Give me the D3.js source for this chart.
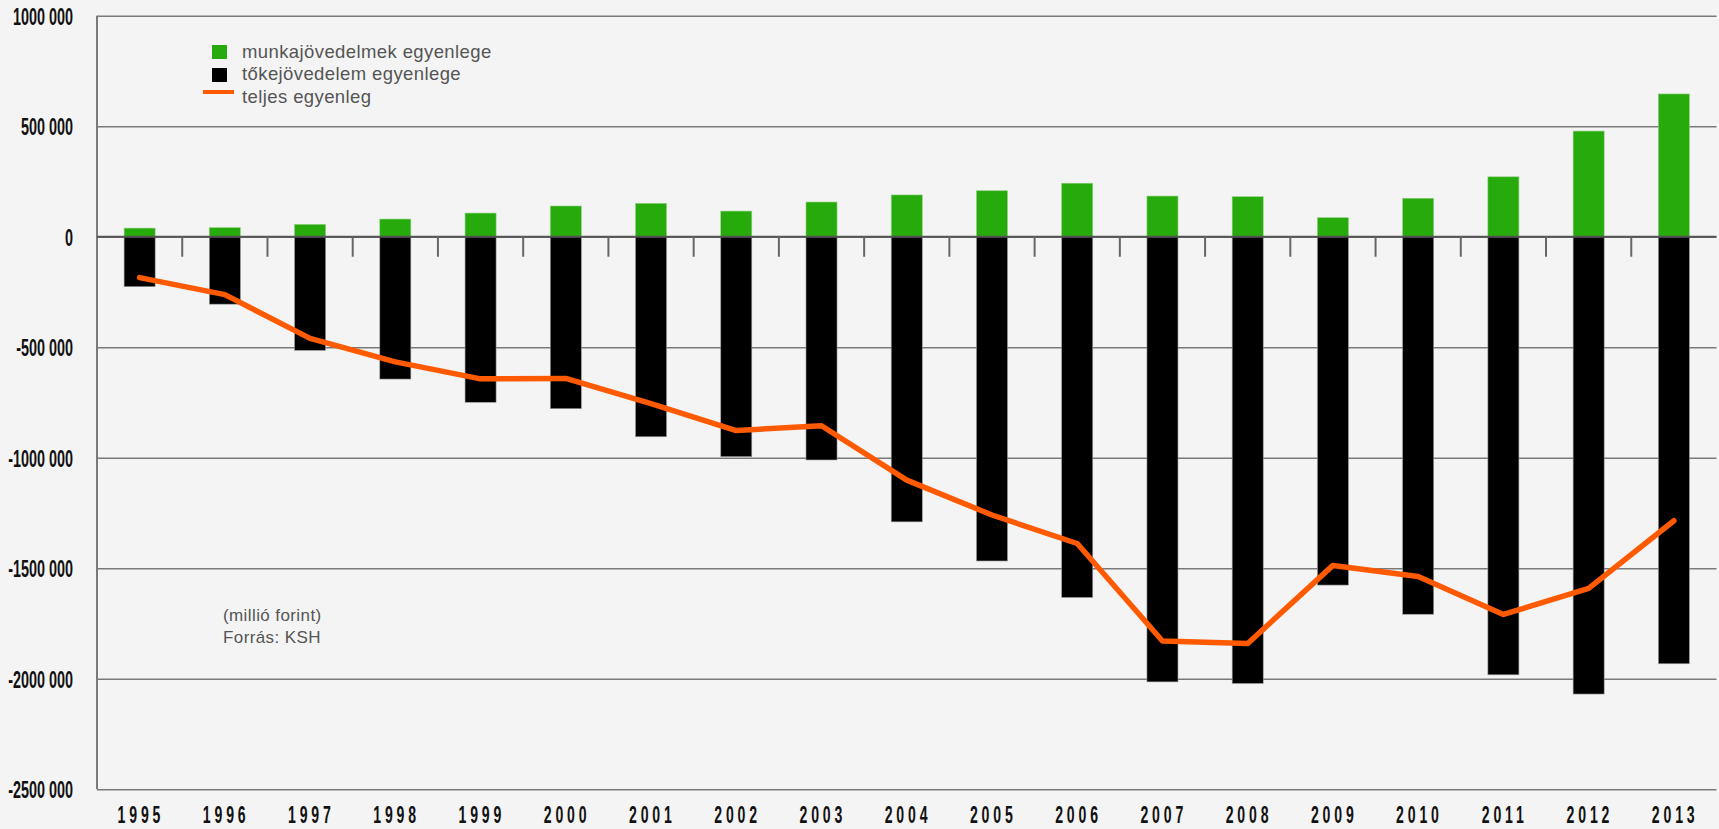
<!DOCTYPE html>
<html>
<head>
    <meta charset="utf-8">
    <title>Munka- és tőkejövedelem egyenlege</title>
    <script src="https://d3js.org/d3.v7.min.js"></script>
    <style>
        body { margin: 0; background: #f4f4f4; }
        svg { display: block; background: #f4f4f4; }
        .grid line { stroke: #7a7a7a; stroke-width: 1.5px; }
        .grid .domain { display: none; }
        .ylab text { font: bold 20px "Liberation Sans", sans-serif; fill: #111; }
        .xlab text { font: bold 22px "Liberation Sans", sans-serif; fill: #111; letter-spacing: 6px; }
        .legend text { font: 18.5px "Liberation Sans", sans-serif; fill: #555; letter-spacing: 0.4px; }
        .note text { font: 17px "Liberation Sans", sans-serif; fill: #555; letter-spacing: 0.4px; }
    </style>
</head>
<body>
<script>
    // adatok (millió forint), forrás: KSH
    var years = ["1995","1996","1997","1998","1999","2000","2001","2002","2003","2004",
                 "2005","2006","2007","2008","2009","2010","2011","2012","2013"];
    var munka = [39000, 41000, 56000, 80000, 107000, 139000, 151000, 116000, 157000, 189000,
                 208000, 242000, 184000, 181000, 86000, 174000, 271000, 478000, 646000];
    var toke = [-226000, -305000, -514000, -644000, -749000, -778000, -905000, -995000, -1010000, -1290000,
                -1467000, -1632000, -2014000, -2021000, -1576000, -1708000, -1982000, -2069000, -1932000];
    var teljes = [-185000, -262000, -460000, -566000, -643000, -641000, -755000, -877000, -855000, -1101000,
                  -1259000, -1388000, -1829000, -1840000, -1487000, -1537000, -1709000, -1591000, -1285000];
    var yTicks = [1000000, 500000, 0, -500000, -1000000, -1500000, -2000000, -2500000];
    var legendItems = ["munkajövedelmek egyenlege", "tőkejövedelem egyenlege", "teljes egyenleg"];

    var width = 1719, height = 829;
    var mLeft = 97, mRight = 1716.5, mTop = 15.7, mBottom = 789.3;

    var svg = d3.select("body").append("svg")
        .attr("width", width)
        .attr("height", height);

    var x = d3.scaleBand()
        .domain(years)
        .range([mLeft, mRight])
        .paddingInner(0.636)
        .paddingOuter(0.318);

    var y = d3.scaleLinear()
        .domain([-2500000, 1000000])
        .range([mBottom, mTop]);

    function fmt(v) {
        if (v === 0) return "0";
        var s = v < 0 ? "-" : "";
        return s + Math.floor(Math.abs(v) / 1000) + " 000";
    }

    // vízszintes rácsvonalak
    svg.append("g")
        .attr("class", "grid")
        .attr("transform", "translate(" + mLeft + ",0)")
        .call(d3.axisLeft(y).tickValues(yTicks).tickSize(-(mRight - mLeft)).tickFormat(""));

    // bal tengelyvonal
    svg.append("line")
        .attr("x1", mLeft).attr("x2", mLeft)
        .attr("y1", mTop).attr("y2", mBottom)
        .attr("stroke", "#7a7a7a").attr("stroke-width", 2);

    // y feliratok
    var ylab = svg.append("g")
        .attr("class", "ylab")
        .attr("transform", "translate(" + (mLeft - 24) + ",0)")
        .call(d3.axisLeft(y).tickValues(yTicks).tickSize(0).tickPadding(0).tickFormat(fmt));
    ylab.select(".domain").remove();
    ylab.selectAll("text").attr("x", 0).attr("dy", "0.36em").attr("transform", "scale(0.72,1.18)");

    // oszlopok
    svg.append("g").selectAll("rect")
        .data(years)
        .enter().append("rect")
        .attr("x", function(d) { return x(d); })
        .attr("width", x.bandwidth())
        .attr("y", y(0))
        .attr("height", function(d, i) { return y(toke[i]) - y(0); })
        .attr("fill", "#000")
        .attr("stroke", "#999").attr("stroke-width", 0.6);

    svg.append("g").selectAll("rect")
        .data(years)
        .enter().append("rect")
        .attr("x", function(d) { return x(d); })
        .attr("width", x.bandwidth())
        .attr("y", function(d, i) { return y(munka[i]); })
        .attr("height", function(d, i) { return y(0) - y(munka[i]); })
        .attr("fill", "#27aa0b")
        .attr("stroke", "#8fd07f").attr("stroke-width", 0.6);

    // nulla vonal és osztások
    svg.append("line")
        .attr("x1", mLeft).attr("x2", mRight)
        .attr("y1", y(0)).attr("y2", y(0))
        .attr("stroke", "#555").attr("stroke-width", 2);

    var gap = x.step() * x.paddingInner() / 2;
    svg.append("g").selectAll("line")
        .data(years.slice(1))
        .enter().append("line")
        .attr("x1", function(d) { return x(d) - gap; })
        .attr("x2", function(d) { return x(d) - gap; })
        .attr("y1", y(0))
        .attr("y2", y(0) + 20)
        .attr("stroke", "#666").attr("stroke-width", 2);

    // teljes egyenleg vonal
    var line = d3.line()
        .x(function(d, i) { return x(years[i]) + x.bandwidth() / 2; })
        .y(function(d) { return y(d); });

    svg.append("path")
        .datum(teljes)
        .attr("d", line)
        .attr("fill", "none")
        .attr("stroke", "#ff5a00")
        .attr("stroke-width", 5.5)
        .attr("stroke-linecap", "round")
        .attr("stroke-linejoin", "round");

    // év feliratok
    var xlab = svg.append("g")
        .attr("class", "xlab")
        .attr("transform", "translate(0," + (mBottom + 34) + ")")
        .call(d3.axisBottom(x).tickSize(0).tickPadding(0));
    xlab.select(".domain").remove();
    xlab.selectAll("text")
        .attr("y", 0).attr("dy", 0).attr("x", 2)
        .attr("transform", "scale(0.64,1.1)");

    // jelmagyarázat
    var legend = svg.append("g").attr("class", "legend");
    legend.append("rect").attr("x", 212).attr("y", 45).attr("width", 15).attr("height", 14).attr("fill", "#27aa0b");
    legend.append("rect").attr("x", 212).attr("y", 68).attr("width", 15).attr("height", 14).attr("fill", "#000");
    legend.append("line").attr("x1", 203).attr("x2", 234).attr("y1", 92).attr("y2", 92)
        .attr("stroke", "#ff5a00").attr("stroke-width", 4);
    legend.selectAll("text")
        .data(legendItems)
        .enter().append("text")
        .attr("x", 242)
        .attr("y", function(d, i) { return 57.5 + i * 22.7; })
        .text(function(d) { return d; });

    // megjegyzés
    var note = svg.append("g").attr("class", "note");
    note.append("text").attr("x", 223).attr("y", 621).text("(millió forint)");
    note.append("text").attr("x", 223).attr("y", 643).text("Forrás: KSH");
</script>
</body>
</html>
